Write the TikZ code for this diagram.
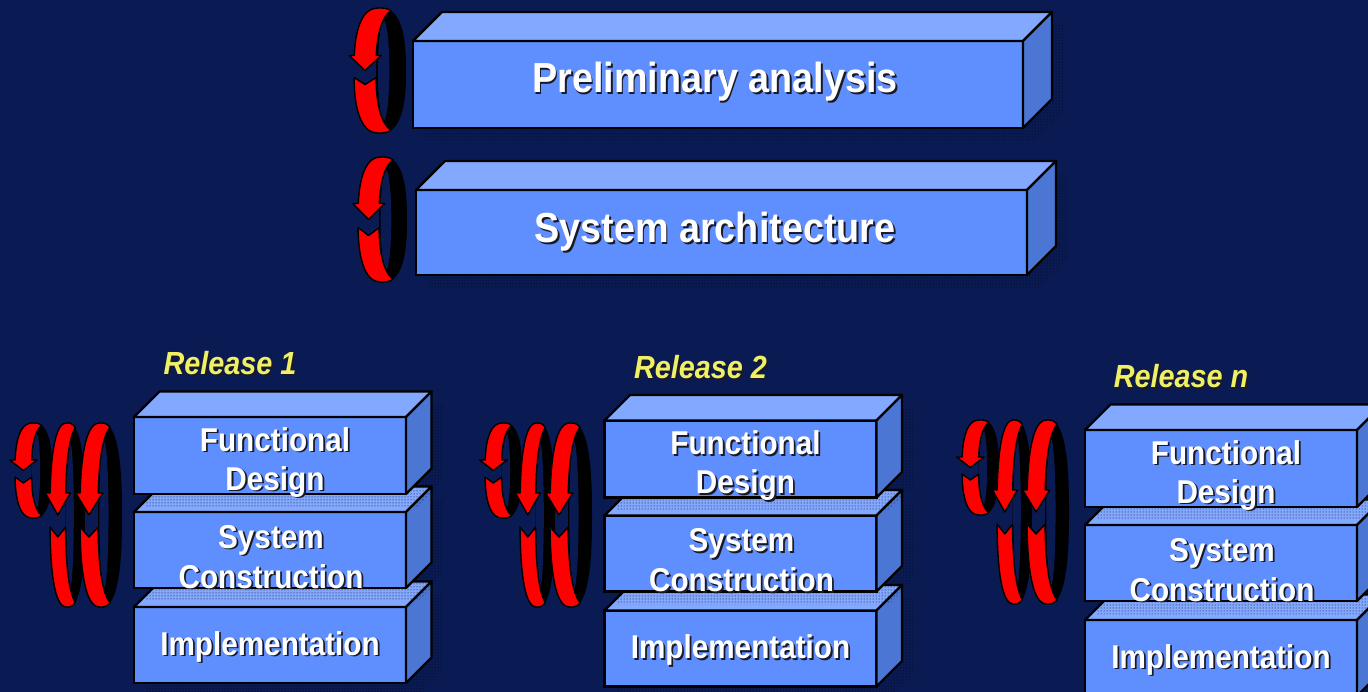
\documentclass[tikz,border=0pt]{standalone}
\usepackage{fontspec}
\setmainfont{Liberation Sans}
\newfontfamily\narrowsans[FakeStretch=0.9]{Liberation Sans}
\usetikzlibrary{patterns}

\definecolor{bg}{RGB}{10,27,84}
\definecolor{frontc}{RGB}{95,142,255}
\definecolor{topc}{RGB}{130,168,255}
\definecolor{sidec}{RGB}{75,118,212}
\definecolor{labelc}{RGB}{240,240,100}
\definecolor{txtshade}{RGB}{25,25,40}
\definecolor{ringred}{RGB}{255,0,0}

% text with a small drop shadow
\newcommand\shd[1]{\rlap{\kern1.8pt\raisebox{-1.8pt}{\textcolor{txtshade}{#1}}}#1}

% 3-D block: name, front x1, y1, x2, y2, depth
\newcommand\cube[6]{%
  \fill[shadowpat, shift={(12,13)}] (#2,#5) -- (#2,#3) -- ({#2+#6},{#3-#6})
    -- ({#4+#6},{#3-#6}) -- ({#4+#6},{#5-#6}) -- (#4,#5) -- cycle;
  \node[frontface, minimum width={#4-#2}, minimum height={#5-#3}] (#1)
    at ({(#2+#4)/2},{(#3+#5)/2}) {};
  \filldraw[topface] (#1.north west) -- ++(#6,-#6)
    -- ([shift={(#6,-#6)}]#1.north east) -- (#1.north east) -- cycle;
  \filldraw[sideface] (#1.north east) -- ++(#6,-#6)
    -- ([shift={(#6,-#6)}]#1.south east) -- (#1.south east) -- cycle;
}

% cycling ring (rounded super-ellipse): cx, cy, rx, ry, band width,
% head base above centre, notch below centre, notch vertex below centre,
% barb overhang
\newcommand\ringloop[9]{%
  \pgfmathsetmacro\ra{acos(pow(#5/(2*#3),1.282))}%
  \pgfmathsetmacro\tb{180+asin(pow(#6/#4,1.282))}%
  \pgfmathsetmacro\tn{180-asin(pow(#7/#4,1.282))}%
  \pgfmathsetmacro\xb{#1+#3*rsx(\tb)}%
  \pgfmathsetmacro\xn{#1+#3*rsx(\tn)}%
  % inner (back) face of the ring
  \begin{scope}
    \clip plot[domain=0:360,samples=91] ({#1+#5+#3*rsx(\x)},{#2+#4*rsy(\x)}) -- cycle;
    \fill[black] plot[domain=0:360,samples=91] ({#1+#3*rsx(\x)},{#2+#4*rsy(\x)}) -- cycle;
  \end{scope}
  \fill[bg] ({#1+0.14*#3},#2) ellipse [x radius={0.22*#3}, y radius={0.8*#4}];
  % outer (front) face, split by the arrow
  \filldraw[band]
    plot[domain=0:1,samples=30] ({#1+#3*rsx(360-\ra+(\tb-360+\ra)*\x)},{#2+#4*rsy(360-\ra+(\tb-360+\ra)*\x)})
    -- ({\xb-#9},{#2-#6}) -- ({#1-#3+#5/2},#2) -- ({\xb+#5+#9},{#2-#6})
    -- plot[domain=0:1,samples=30] ({#1+#5+#3*rsx(\tb+(180+\ra-\tb)*\x)},{#2+#4*rsy(\tb+(180+\ra-\tb)*\x)})
    -- cycle;
  \filldraw[band] (\xn,{#2+#7})
    -- plot[domain=0:1,samples=30] ({#1+#3*rsx(\tn+(\ra-\tn)*\x)},{#2+#4*rsy(\tn+(\ra-\tn)*\x)})
    -- plot[domain=0:1,samples=30] ({#1+#5+#3*rsx(180-\ra+(\tn-180+\ra)*\x)},{#2+#4*rsy(180-\ra+(\tn-180+\ra)*\x)})
    -- ({\xn+#5/2},{#2+#8}) -- cycle;
}

% one release: name prefix, shift x, shift y, title
\newcommand\release[4]{%
  \begin{scope}[shift={(#2,#3)}]
    \cube{#1c}{134}{607}{406}{683}{25.5}
    \cube{#1b}{134}{512}{406}{588}{25.5}
    \cube{#1a}{134}{417}{406}{494}{25.5}
    \node[smalltxt] (#1a1) at (275,451) {\shd{Functional}};
    \node[smalltxt] (#1a2) at (275,490) {\shd{Design}};
    \node[smalltxt] (#1b1) at (271,548) {\shd{System}};
    \node[smalltxt] (#1b2) at (271,588) {\shd{Construction}};
    \node[smalltxt] (#1c1) at (270,655) {\shd{Implementation}};
    \node[labeltxt] (#1title) at (230,375) {\shd{#4}};
  \end{scope}}

% the three rings in front of a release
\newcommand\ringset[2]{%
  \begin{scope}[shift={(#1,#2)}]
    \ringloop{33.5}{470.5}{18.5}{47.5}{16.5}{10.5}{6.5}{12.5}{5.5}
    \ringloop{67.5}{515}{17.5}{92}{15.5}{22}{12}{22}{4.75}
    \ringloop{101}{515}{21}{92}{18}{22}{12}{22}{4.5}
  \end{scope}}

\tikzset{
  shadowpat/.style={pattern=dots, pattern color=black},
  frontface/.style={rectangle, draw=black, fill=frontc, line width=2.4pt,
    inner sep=0pt, outer sep=0pt},
  topface/.style={draw=black, fill=topc, line width=2.4pt, line join=round},
  sideface/.style={draw=black, fill=sidec, line width=2.4pt, line join=round},
  band/.style={draw=black, fill=ringred, line width=1.4pt, line join=round},
  bigtxt/.style={text=white, anchor=base, inner sep=0pt,
    font=\narrowsans\bfseries\fontsize{42}{48}\selectfont},
  smalltxt/.style={text=white, anchor=base, inner sep=0pt,
    font=\narrowsans\bfseries\fontsize{33}{40}\selectfont},
  labeltxt/.style={text=labelc, anchor=base, inner sep=0pt,
    font=\narrowsans\bfseries\itshape\fontsize{32}{38}\selectfont},
}

\begin{document}
\begin{tikzpicture}[x=1pt,y=-1pt,
    declare function={
      rsx(\t)=cos(\t)*pow(abs(cos(\t))+0.00001,-0.22);
      rsy(\t)=sin(\t)*pow(abs(sin(\t))+0.00001,-0.22);
    }]
  \useasboundingbox (0,0) rectangle (1368,692);
  \fill[bg] (0,0) rectangle (1368,692);
  \clip (0,0) rectangle (1368,692);

  % project-wide phases
  \ringloop{380}{70.5}{26}{62.5}{22}{15}{7}{14}{5}
  \cube{prelim}{413}{41}{1023}{128}{29}
  \node[bigtxt] (prelimtxt) at (715,93) {\shd{Preliminary analysis}};

  \ringloop{382.5}{219.5}{24.5}{62.5}{21}{16}{8}{16}{5.5}
  \cube{arch}{416}{190}{1027}{275}{29}
  \node[bigtxt] (archtxt) at (715,243) {\shd{System architecture}};

  % releases
  \ringset{0}{0}
  \release{rA}{0}{0}{Release 1}
  \ringset{470}{0}
  \release{rB}{470.5}{3.5}{Release 2}
  \ringset{947}{-3}
  \release{rN}{951}{13}{Release n}
\end{tikzpicture}
\end{document}
